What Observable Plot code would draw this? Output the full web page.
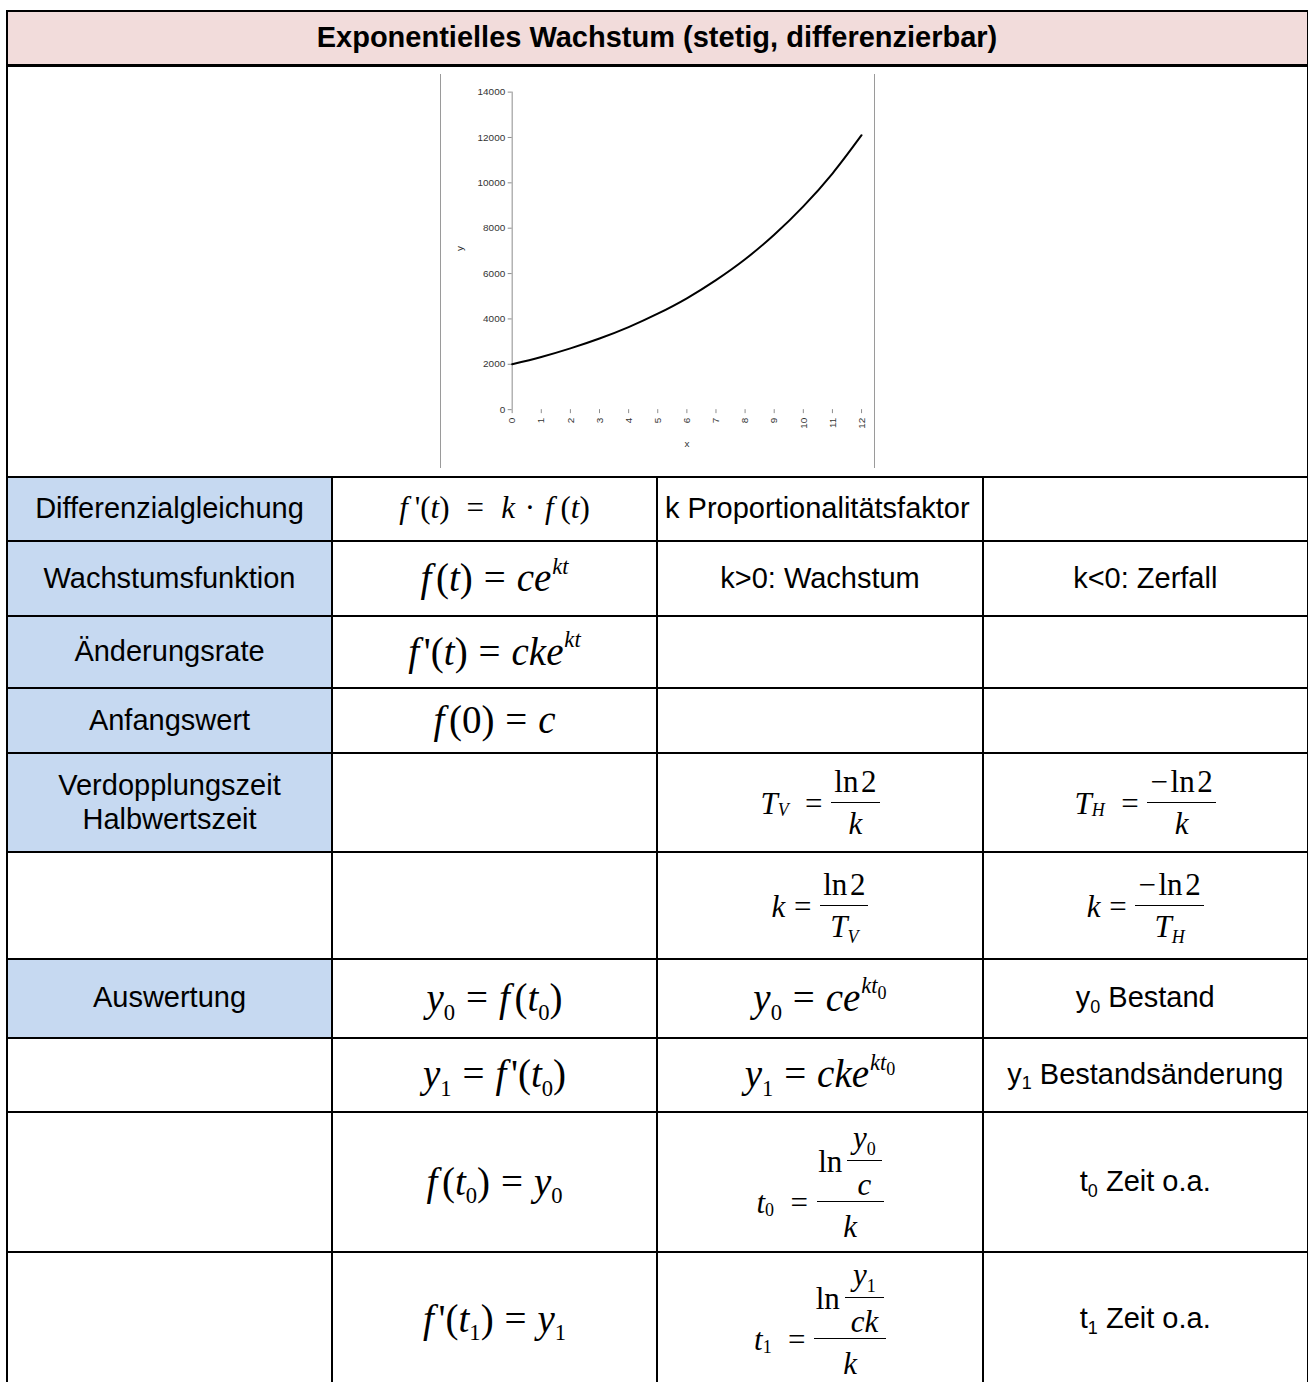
<!DOCTYPE html>
<html><head><meta charset="utf-8">
<script src="https://cdn.jsdelivr.net/npm/d3@7"></script>
<script src="https://cdn.jsdelivr.net/npm/@observablehq/plot@0.6"></script>
<style>
html,body{margin:0;padding:0;background:#fff;}
body{width:1308px;height:1382px;position:relative;overflow:hidden;font-family:"Liberation Sans",Arial,sans-serif;color:#000;}
.cell{position:absolute;display:flex;align-items:center;justify-content:center;text-align:center;font-size:29px;line-height:1.16;box-sizing:border-box;}
.cell.left{justify-content:flex-start;padding-left:8px;}
.ln{position:absolute;background:#000;}
.txtsub{font-size:0.62em;position:relative;top:0.3em;}
.m{font-family:"Liberation Serif","Times New Roman",serif;line-height:1;white-space:nowrap;}
.m i{font-style:italic;}
.sub{font-size:0.58em;position:relative;top:0.38em;}
.sup{font-size:0.58em;position:relative;top:-0.78em;margin-left:0.04em;}
.sup .sub{font-size:0.8em;top:0.3em;}
.rel{margin:0 0.28em;}
.bin{margin:0 0.22em;}
.gap{margin-right:0.12em;}
.wide .rel{margin:0 0.55em;}
.wide .bin{margin:0 0.32em;}
.wide .gap{margin-right:0.22em;}
.fx{display:inline-grid;grid-template-columns:auto auto;grid-template-rows:auto auto;vertical-align:middle;}
.fx>.pre{grid-row:1;grid-column:1;align-self:end;transform:translateY(50%);white-space:nowrap;display:flex;align-items:center;}
.fx>.num{grid-row:1;grid-column:2;border-bottom:1.5px solid #000;display:flex;justify-content:center;align-items:flex-end;padding:0 0.1em 0.14em;}
.fx>.den{grid-row:2;grid-column:2;display:flex;justify-content:center;align-items:flex-start;padding-top:0.16em;}
.fx.outer>.num{padding:0 0.05em 0.04em;}
.fx.outer>.den{padding-top:0.28em;}
.fx.inner>.pre{margin-right:0.15em;}
.fx.inner>.num{padding:0 0.2em 0.22em;}
.fx.inner>.den{padding:0.26em 0.2em 0;}
#chartbox{position:absolute;left:440px;top:74px;width:435px;height:394px;border-left:1px solid #9a9a9a;border-right:1px solid #9a9a9a;box-sizing:border-box;}
#chartbox svg{position:absolute;left:-1px;top:0;}
</style>
</head>
<body>
<script>
// ---------- chart data ----------
const xValues = [0, 1, 2, 3, 4, 5, 6, 7, 8, 9, 10, 11, 12];
const yValues = [2000, 2320, 2700, 3135, 3640, 4230, 4910, 5710, 6630, 7710, 8960, 10410, 12100];
const xTicks = [0, 1, 2, 3, 4, 5, 6, 7, 8, 9, 10, 11, 12];
const yTicks = [0, 2000, 4000, 6000, 8000, 10000, 12000, 14000];
const xLabel = "x";
const yLabel = "y";

// ---------- table text ----------
const title = "Exponentielles Wachstum (stetig, differenzierbar)";
const rowLabels = ["Differenzialgleichung", "Wachstumsfunktion", "Änderungsrate", "Anfangswert",
  "Verdopplungszeit<br>Halbwertszeit", "", "Auswertung", "", "", ""];
const col3Text = ["k Proportionalitätsfaktor", "k&gt;0: Wachstum"];
const col4Text = ["", "k&lt;0: Zerfall", "", "", "", "", "y<span class='txtsub'>0</span> Bestand",
  "y<span class='txtsub'>1</span> Bestandsänderung", "t<span class='txtsub'>0</span> Zeit o.a.", "t<span class='txtsub'>1</span> Zeit o.a."];

// ---------- formula helpers ----------
const I = s => `<i>${s}</i>`;
const F = `<i class="gap">f</i>`;
const sub = s => `<span class="sub">${s}</span>`;
const sup = s => `<span class="sup">${s}</span>`;
const eq = `<span class="rel">=</span>`;
const frac = (pre, num, den, cls = "") => `<span class="fx ${cls}"><span class="pre">${pre}</span><span class="num"><span>${num}</span></span><span class="den"><span>${den}</span></span></span>`;
const M = (html, size, cls = "") => `<span class="m ${cls}" style="font-size:${size}px">${html}</span>`;

const col2 = [
  M(`${F}'(${I("t")})${eq}${I("k")}<span class="bin">·</span>${F}(${I("t")})`, 31, "wide"),
  M(`${F}(${I("t")})${eq}${I("ce")}${sup(I("kt"))}`, 39),
  M(`${F}'(${I("t")})${eq}${I("cke")}${sup(I("kt"))}`, 39),
  M(`${F}(0)${eq}${I("c")}`, 39),
  "", "",
  M(`${I("y")}${sub("0")}${eq}${F}(${I("t")}${sub("0")})`, 39),
  M(`${I("y")}${sub("1")}${eq}${F}'(${I("t")}${sub("0")})`, 39),
  M(`${F}(${I("t")}${sub("0")})${eq}${I("y")}${sub("0")}`, 39),
  M(`${F}'(${I("t")}${sub("1")})${eq}${I("y")}${sub("1")}`, 39)
];
const col3 = [
  col3Text[0], col3Text[1], "", "",
  M(frac(`${I("T")}${sub(I("V"))}&nbsp;${eq}`, "ln&#8202;2", I("k")), 31),
  M(frac(`${I("k")}${eq}`, "ln&#8202;2", `${I("T")}${sub(I("V"))}`), 31),
  M(`${I("y")}${sub("0")}${eq}${I("ce")}${sup(I("kt") + sub("0"))}`, 39),
  M(`${I("y")}${sub("1")}${eq}${I("cke")}${sup(I("kt") + sub("0"))}`, 39),
  M(frac(`${I("t")}${sub("0")}&nbsp;${eq}`, frac("ln", `${I("y")}${sub("0")}`, I("c"), "inner"), I("k"), "outer"), 31),
  M(frac(`${I("t")}${sub("1")}&nbsp;${eq}`, frac("ln", `${I("y")}${sub("1")}`, I("ck"), "inner"), I("k"), "outer"), 31)
];
const col4 = col4Text.slice();
col4[4] = M(frac(`${I("T")}${sub(I("H"))}&nbsp;${eq}`, "&minus;&#8202;ln&#8202;2", I("k")), 31);
col4[5] = M(frac(`${I("k")}${eq}`, "&minus;&#8202;ln&#8202;2", `${I("T")}${sub(I("H"))}`), 31);
const blueRows = [0, 1, 2, 3, 4, 6];

// ---------- layout ----------
const colX = [7, 332, 657, 983, 1307.5];
const rowY = [477, 541, 616, 688, 753, 852, 959, 1037.5, 1112, 1252, 1386];
const body = document.body;
function el(cls, style, html) {
  const d = document.createElement("div");
  d.className = cls; d.style.cssText = style; if (html) d.innerHTML = `<span>${html}</span>`;
  body.appendChild(d); return d;
}
// header
el("cell", `left:7px;top:11px;width:1300px;height:53px;background:#F2DCDB;font-weight:bold;`, title);
// cells
for (let r = 0; r < 10; r++) {
  const top = rowY[r], h = rowY[r + 1] - rowY[r];
  const contents = [rowLabels[r], col2[r], col3[r], col4[r]];
  for (let c = 0; c < 4; c++) {
    const left = colX[c], w = colX[c + 1] - colX[c];
    const bg = (c === 0 && blueRows.includes(r)) ? "background:#C6D9F1;" : "";
    const cls = (r === 0 && c === 2) ? "cell left" : "cell";
    el(cls, `left:${left}px;top:${top}px;width:${w}px;height:${h}px;${bg}`, contents[c]);
  }
}
// lines
el("ln", "left:6px;top:10px;width:1302px;height:2px;");
el("ln", "left:6px;top:63.5px;width:1302px;height:3px;");
for (const y of rowY.slice(0, 10)) el("ln", `left:6px;top:${y - 1}px;width:1302px;height:2px;`);
el("ln", "left:6px;top:10px;width:2px;height:1372px;");
el("ln", "left:1307px;top:10px;width:1px;height:1372px;");
for (const x of colX.slice(1, 4)) el("ln", `left:${x - 1}px;top:477px;width:2px;height:905px;`);

// ---------- chart ----------
const box = el("", "", "");
box.id = "chartbox";
const points = xValues.map((x, i) => ({x, y: yValues[i]}));
const chart = Plot.plot({
  width: 435, height: 394,
  marginLeft: 72, marginRight: 12, marginTop: 17.7, marginBottom: 57.3,
  style: {fontFamily: "'Liberation Sans', Arial, sans-serif", fontSize: "10px", background: "transparent", overflow: "visible"},
  x: {domain: [0, 12]},
  y: {domain: [0, 14000]},
  marks: [
    Plot.ruleX([0], {y1: 0, y2: 14000, stroke: "#8c8c8c", strokeWidth: 1}),
    Plot.axisY(yTicks, {tickSize: 4, tickPadding: 3, stroke: "#8c8c8c", fill: "#333", label: null, tickFormat: d3.format("d")}),
    Plot.axisX(xTicks, {tickSize: 4, tickPadding: 4, tickRotate: -90, stroke: "#8c8c8c", fill: "#333", label: null, tickFormat: d3.format("d")}),
    Plot.line(points, {x: "x", y: "y", curve: "monotone-x", stroke: "#000", strokeWidth: 2}),
    Plot.text([yLabel], {text: d => d, frameAnchor: "left", dx: -53, rotate: -90, fill: "#333"}),
    Plot.text([xLabel], {text: d => d, frameAnchor: "bottom", dy: 38, fill: "#333"})
  ]
});
box.appendChild(chart);
</script>
</body></html>
